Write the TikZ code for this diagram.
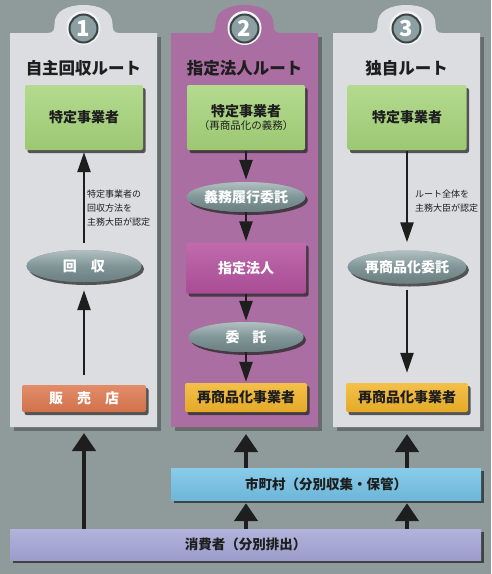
\documentclass[tikz,border=0pt]{standalone}
\usepackage{fontspec}
\setmainfont{Noto Sans CJK JP}
\usetikzlibrary{shapes.geometric,arrows.meta,shadows}
\definecolor{bg}{HTML}{8F9B9B}
\definecolor{panelL}{HTML}{DCDDE1}
\definecolor{panelP}{HTML}{AA6EA2}
\definecolor{grn}{HTML}{A6D47A}
\definecolor{ell}{HTML}{7F9597}
\definecolor{org}{HTML}{DE7850}
\definecolor{mag}{HTML}{B4519E}
\definecolor{yel}{HTML}{F2B52A}
\definecolor{blu}{HTML}{74C2E6}
\definecolor{lav}{HTML}{A5A6D6}
\definecolor{ink}{HTML}{1E1E1E}
\definecolor{numfill}{HTML}{8C9FA2}
\definecolor{numring}{HTML}{3B4547}
\tikzset{
  shad/.style={drop shadow={shadow xshift=2.5pt,shadow yshift=-3pt,fill=black!85,opacity=.75}},
  box/.style={rectangle, rounded corners=2pt, inner sep=0pt, align=center, shad,
    font=\fontsize{14}{16}\selectfont\bfseries},
  bcol/.style={top color=#1!85!white, middle color=#1, bottom color=#1!94!black},
  bar/.style={rectangle, inner sep=0pt, text=ink, shad,
    font=\fontsize{13.5}{16}\selectfont\bfseries},
  oval/.style={ellipse, inner sep=0pt, fill=ell, text=white, shad,
    top color=ell!60!white, bottom color=ell!85!black, middle color=ell,
    font=\fontsize{14}{16}\selectfont\bfseries},
  ttl/.style={inner sep=0pt, text=ink, font=\fontsize{16.5}{18}\selectfont\bfseries},
  note/.style={inner sep=0pt, align=left, text=ink, font=\fontsize{9}{14}\selectfont},
  numc/.style={circle, minimum size=28pt, inner sep=0pt, fill=numfill, draw=numring,
    line width=2pt, text=white, font=\fontsize{22}{24}\selectfont\bfseries},
  arr/.style={draw=ink, line width=2.5pt, -{Triangle[length=20pt,width=13pt]}},
  bigarr/.style={draw=ink, line width=4.5pt, -{Triangle[length=18pt,width=23pt]}},
}
\newcommand\routepanel[6]{% name, left, right, fill, number, title
  \pgfmathsetmacro\pcx{(#2+#3)/2}
  \pgfmathsetmacro\pwd{#3-#2}
  \fill[black!70,opacity=.6] ({#2+4},37) rectangle ({#3+4},431);
  \fill[#4] (#2,33) -- ({\pcx-36},33) .. controls ({\pcx-30},33) and ({\pcx-29},30) .. ({\pcx-29},24)
     .. controls ({\pcx-29},11) and ({\pcx-16},5) .. (\pcx,5)
     .. controls ({\pcx+16},5) and ({\pcx+29},11) .. ({\pcx+29},24)
     .. controls ({\pcx+29},30) and ({\pcx+30},33) .. ({\pcx+36},33)
     -- (#3,33) -- (#3,427) -- (#2,427) -- cycle;
  \node[inner sep=0pt, minimum width=\pwd pt, minimum height=394pt] (#1) at (\pcx,230) {};
  \fill[white!90!gray] (\pcx,28) circle (17);
  \node[numc] (#1n) at (\pcx,28.5) {#5};
  \node[ttl] (#1t) at (\pcx,68) {#6};
}
\begin{document}
\begin{tikzpicture}[x=1pt,y=-1pt]
\fill[bg] (0,0) rectangle (491,574);
\useasboundingbox (0,0) rectangle (491,574);

\routepanel{P1}{10}{157}{panelL}{1}{自主回収ルート}
\routepanel{P2}{171}{318}{panelP}{2}{指定法人ルート}
\routepanel{P3}{333}{480}{panelL}{3}{独自ルート}

% panel 1
\node[box, bcol=grn, text=ink, minimum width=118pt, minimum height=65pt] (g1) at (84,117.5) {特定事業者};
\node[oval, minimum width=115pt, minimum height=32pt] (kaishu) at (84,266) {回\hspace{1em}収};
\node[box, bcol=org, text=white, minimum width=124pt, minimum height=27pt] (hanbai) at (84,398.5) {販\hspace{1em}売\hspace{1em}店};
\node[note, anchor=north west] (n1) at (87,190) {特定事業者の\\回収方法を\\主務大臣が認定};
\draw[arr, shorten <=7pt, shorten >=2pt] (kaishu) -- (g1);
\draw[arr, shorten <=10pt, shorten >=8pt] (hanbai) -- (kaishu);

% panel 2
\node[box, bcol=grn, text=ink, minimum width=118pt, minimum height=65pt] (g2) at (246,117.5)
  {特定事業者\\[-3pt]{\fontsize{10.5}{12}\selectfont\mdseries （再商品化の義務）}};
\node[oval, minimum width=115pt, minimum height=30pt] (gimu) at (246,197) {義務履行委託};
\node[box, bcol=mag, text=white, minimum width=120pt, minimum height=51pt] (shitei) at (246,268) {指定法人};
\node[oval, minimum width=115pt, minimum height=30pt] (itaku) at (246,337) {委\hspace{0.9em}託};
\node[box, bcol=yel, text=ink, minimum width=122pt, minimum height=29pt] (sai2) at (246,397.5) {再商品化事業者};
\draw[arr, shorten <=1pt, shorten >=2pt] (g2) -- (gimu);
\draw[arr, shorten >=1pt] (gimu) -- (shitei);
\draw[arr, shorten >=1pt] (shitei) -- (itaku);
\draw[arr, shorten >=1pt] (itaku) -- (sai2);

% panel 3
\node[box, bcol=grn, text=ink, minimum width=119pt, minimum height=65pt] (g3) at (407,117.5) {特定事業者};
\node[oval, minimum width=115pt, minimum height=33pt] (saiitaku) at (407,267) {再商品化委託};
\node[box, bcol=yel, text=ink, minimum width=122pt, minimum height=29pt] (sai3) at (407,397.5) {再商品化事業者};
\node[note, anchor=north west] (n3) at (415,190) {ルート全体を\\主務大臣が認定};
\draw[arr, shorten <=1pt, shorten >=8pt] (g3) -- (saiitaku);
\draw[arr, shorten <=6pt, shorten >=10pt] (saiitaku) -- (sai3);

% bottom bars
\node[bar, bcol=blu, minimum width=310pt, minimum height=32pt] (muni) at (326,484) {市町村（分別収集・保管）};
\node[bar, bcol=lav, minimum width=471pt, minimum height=31pt] (cons) at (245.5,544.5) {消費者（分別排出）};

\coordinate (a1) at (84,427);
\coordinate (a2) at (246,427);
\coordinate (a3) at (407,427);
\draw[bigarr, shorten >=6pt] (cons.north -| a1) -- (a1);
\draw[bigarr, shorten >=7pt] (muni.north -| a2) -- (a2);
\draw[bigarr, shorten >=7pt] (muni.north -| a3) -- (a3);
\draw[bigarr, shorten >=3pt] (cons.north -| a2) -- (muni.south -| a2);
\draw[bigarr, shorten >=3pt] (cons.north -| a3) -- (muni.south -| a3);
\end{tikzpicture}
\end{document}
